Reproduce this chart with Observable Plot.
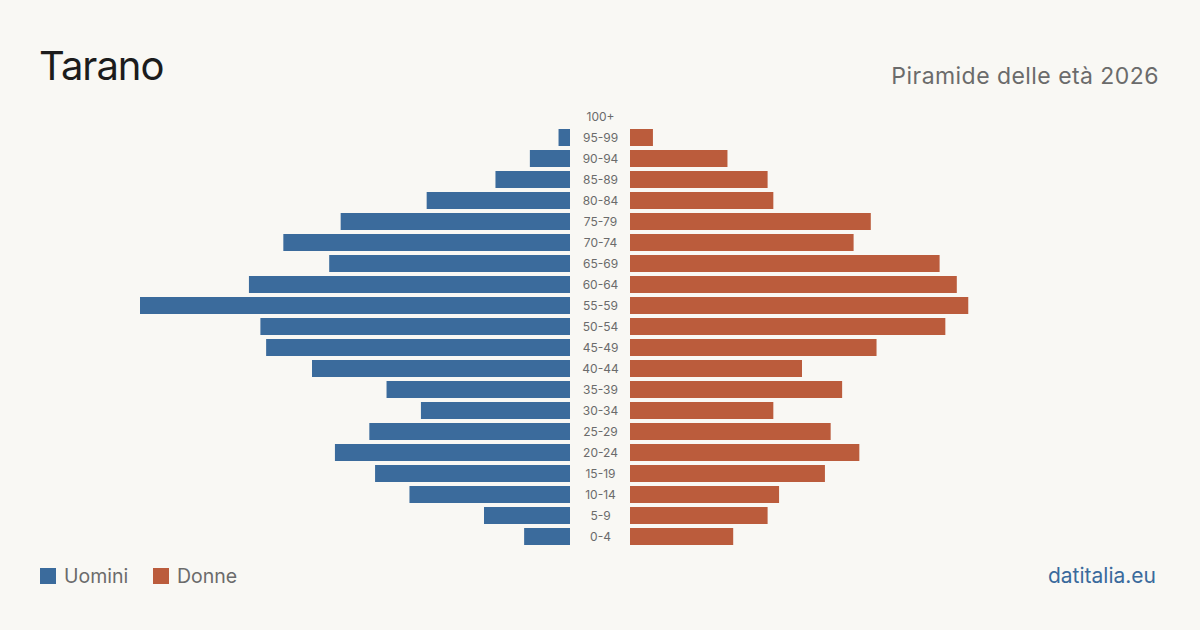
<!DOCTYPE html>
<html lang="it">
<head>
<meta charset="utf-8">
<title>Tarano – Piramide delle età 2026</title>
<script src="https://cdn.jsdelivr.net/npm/d3@7"></script>
<script src="https://cdn.jsdelivr.net/npm/@observablehq/plot@0.6"></script>
<style>
  html, body { margin: 0; padding: 0; background: #f9f8f4; }
  #page { position: relative; width: 1200px; height: 630px; background: #f9f8f4; font-family: Inter, "Noto Sans", sans-serif; overflow: hidden; }
  #header { position: relative; height: 100px; }
  #title { position: absolute; left: 39px; top: 41px; font-size: 40px; line-height: 50px; color: #1c1c1c; font-weight: 400; letter-spacing: -1px; }
  #subtitle { position: absolute; right: 41px; top: 62px; font-size: 23px; line-height: 28px; color: #6b6b6b; letter-spacing: 0.45px; }
  #chart svg { display: block; }
  #footer { position: relative; height: 70px; }
  .legend { position: absolute; top: 4px; display: flex; align-items: center; font-size: 19.5px; color: #6b6b6b; }
  .legend .sw { width: 16px; height: 16px; margin-right: 8px; }
  #source { position: absolute; right: 44px; top: 2px; font-size: 21px; line-height: 28px; color: #3a6a9c; }
</style>
</head>
<body>
<div id="page">
  <div id="header">
    <div id="title">Tarano</div>
    <div id="subtitle">Piramide delle età 2026</div>
  </div>
  <div id="chart"></div>
  <div id="footer">
    <div class="legend" style="left:40px"><div class="sw" style="background:#3b6b9c"></div>Uomini</div>
    <div class="legend" style="left:153px"><div class="sw" style="background:#bb5c3c"></div>Donne</div>
    <div id="source">datitalia.eu</div>
  </div>
</div>
<script>
// Age classes, oldest first (top of the pyramid)
const ages = ["100+", "95-99", "90-94", "85-89", "80-84", "75-79", "70-74", "65-69", "60-64",
  "55-59", "50-54", "45-49", "40-44", "35-39", "30-34", "25-29", "20-24", "15-19", "10-14", "5-9", "0-4"];

// Residents by age class
const men   = [0, 2, 7, 13, 25, 40, 50, 42, 56, 75, 54, 53, 45, 32, 26, 35, 41, 34, 28, 15, 8];
const women = [0, 4, 17, 24, 25, 42, 39, 54, 57, 59, 55, 43, 30, 37, 25, 35, 40, 34, 26, 24, 18];

const colorMen = "#3b6b9c";
const colorWomen = "#bb5c3c";

const rows = ages.map((age, i) => ({age, men: men[i], women: women[i]}));

// Half-width of each side in pixels and the central gap reserved for the age labels
const sideWidth = 430;
const gapPx = 30;
const maxVal = d3.max([...men, ...women]);
const gap = gapPx * maxVal / sideWidth; // gap expressed in data units
const extent = maxVal + gap;

const chart = Plot.plot({
  width: 1200,
  height: 460,
  marginTop: 6,
  marginBottom: 13,
  marginLeft: 140,
  marginRight: 140,
  style: {background: "transparent", fontFamily: "Inter, 'Noto Sans', sans-serif"},
  x: {domain: [-extent, extent], axis: null},
  y: {domain: ages, axis: null, paddingInner: 0.19, paddingOuter: 0.095},
  marks: [
    Plot.barX(rows, {y: "age", x1: -gap, x2: d => -gap - d.men, fill: colorMen}),
    Plot.barX(rows, {y: "age", x1: gap, x2: d => gap + d.women, fill: colorWomen}),
    Plot.text(rows, {y: "age", x: 0, text: "age", fill: "#6b6b6b", fontSize: 12, textAnchor: "middle"})
  ]
});
document.getElementById("chart").appendChild(chart);
</script>
</body>
</html>
